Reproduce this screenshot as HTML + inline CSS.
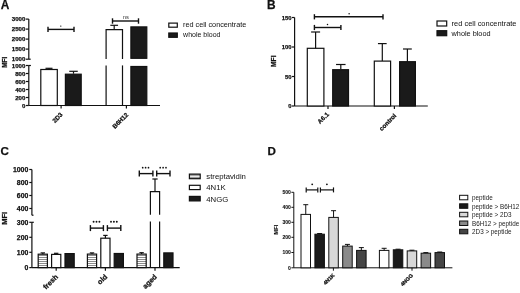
<!DOCTYPE html>
<html><head><meta charset="utf-8"><style>
html,body{margin:0;padding:0;background:#fff;width:520px;height:293px;overflow:hidden}
svg{display:block;will-change:transform;filter:blur(0.4px)}
text{font-family:"Liberation Sans", sans-serif}
</style></head><body>
<svg width="520" height="293" viewBox="0 0 520 293">
<rect width="520" height="293" fill="#fff"/>
<text x="0.8" y="8.9" font-size="11.9" font-weight="bold" text-anchor="start" fill="#111" stroke="#111" stroke-width="0.25">A</text>
<line x1="28.8" y1="19.1" x2="28.8" y2="59.2" stroke="#111" stroke-width="1.2"/>
<line x1="25.900000000000002" y1="19.1" x2="28.8" y2="19.1" stroke="#111" stroke-width="1.2"/>
<text x="25.400000000000002" y="21.296" font-size="6.1" font-weight="bold" text-anchor="end" fill="#111" stroke="#111" stroke-width="0.25">3000</text>
<line x1="25.900000000000002" y1="29.1" x2="28.8" y2="29.1" stroke="#111" stroke-width="1.2"/>
<text x="25.400000000000002" y="31.296" font-size="6.1" font-weight="bold" text-anchor="end" fill="#111" stroke="#111" stroke-width="0.25">2500</text>
<line x1="25.900000000000002" y1="39.1" x2="28.8" y2="39.1" stroke="#111" stroke-width="1.2"/>
<text x="25.400000000000002" y="41.296" font-size="6.1" font-weight="bold" text-anchor="end" fill="#111" stroke="#111" stroke-width="0.25">2000</text>
<line x1="25.900000000000002" y1="49.1" x2="28.8" y2="49.1" stroke="#111" stroke-width="1.2"/>
<text x="25.400000000000002" y="51.296" font-size="6.1" font-weight="bold" text-anchor="end" fill="#111" stroke="#111" stroke-width="0.25">1500</text>
<line x1="25.900000000000002" y1="59.2" x2="28.8" y2="59.2" stroke="#111" stroke-width="1.2"/>
<text x="25.400000000000002" y="61.396" font-size="6.1" font-weight="bold" text-anchor="end" fill="#111" stroke="#111" stroke-width="0.25">1000</text>
<line x1="28.8" y1="65.5" x2="28.8" y2="105.5" stroke="#111" stroke-width="1.2"/>
<line x1="25.900000000000002" y1="65.5" x2="28.8" y2="65.5" stroke="#111" stroke-width="1.2"/>
<text x="25.400000000000002" y="67.696" font-size="6.1" font-weight="bold" text-anchor="end" fill="#111" stroke="#111" stroke-width="0.25">1000</text>
<line x1="25.900000000000002" y1="73.5" x2="28.8" y2="73.5" stroke="#111" stroke-width="1.2"/>
<text x="25.400000000000002" y="75.696" font-size="6.1" font-weight="bold" text-anchor="end" fill="#111" stroke="#111" stroke-width="0.25">800</text>
<line x1="25.900000000000002" y1="81.5" x2="28.8" y2="81.5" stroke="#111" stroke-width="1.2"/>
<text x="25.400000000000002" y="83.696" font-size="6.1" font-weight="bold" text-anchor="end" fill="#111" stroke="#111" stroke-width="0.25">600</text>
<line x1="25.900000000000002" y1="89.5" x2="28.8" y2="89.5" stroke="#111" stroke-width="1.2"/>
<text x="25.400000000000002" y="91.696" font-size="6.1" font-weight="bold" text-anchor="end" fill="#111" stroke="#111" stroke-width="0.25">400</text>
<line x1="25.900000000000002" y1="97.5" x2="28.8" y2="97.5" stroke="#111" stroke-width="1.2"/>
<text x="25.400000000000002" y="99.696" font-size="6.1" font-weight="bold" text-anchor="end" fill="#111" stroke="#111" stroke-width="0.25">200</text>
<line x1="25.900000000000002" y1="105.5" x2="28.8" y2="105.5" stroke="#111" stroke-width="1.2"/>
<text x="25.400000000000002" y="107.696" font-size="6.1" font-weight="bold" text-anchor="end" fill="#111" stroke="#111" stroke-width="0.25">0</text>
<line x1="28.8" y1="59.2" x2="30.7" y2="59.2" stroke="#111" stroke-width="1.2"/>
<line x1="28.8" y1="65.5" x2="30.900000000000002" y2="65.5" stroke="#111" stroke-width="1.2"/>
<text x="6.6" y="62.3" font-size="6.4" font-weight="bold" text-anchor="middle" fill="#111" transform="rotate(-90 6.6 62.3)" stroke="#111" stroke-width="0.25">MFI</text>
<line x1="28.8" y1="105.5" x2="160" y2="105.5" stroke="#111" stroke-width="1.2"/>
<rect x="40.8" y="69.5" width="16.5" height="36.0" fill="#fff" stroke="#111" stroke-width="1.2"/>
<line x1="49" y1="68.3" x2="49" y2="69.5" stroke="#111" stroke-width="1.2"/>
<line x1="45.5" y1="68.3" x2="52.5" y2="68.3" stroke="#111" stroke-width="1.2"/>
<rect x="65.4" y="74.2" width="15.799999999999997" height="31.299999999999997" fill="#1a1a1a" stroke="#111" stroke-width="1.2"/>
<line x1="73.5" y1="71.3" x2="73.5" y2="73.7" stroke="#111" stroke-width="1.2"/>
<line x1="69.25" y1="71.3" x2="77.75" y2="71.3" stroke="#111" stroke-width="1.2"/>
<line x1="61.1" y1="105.5" x2="61.1" y2="108.5" stroke="#111" stroke-width="1.2"/>
<path d="M106.1 59.1 V29.6 H122.5 V59.1" fill="#fff" stroke="#111" stroke-width="1.2"/>
<line x1="106.1" y1="65.4" x2="106.1" y2="105.5" stroke="#111" stroke-width="1.2"/>
<line x1="122.5" y1="65.4" x2="122.5" y2="105.5" stroke="#111" stroke-width="1.2"/>
<line x1="114.2" y1="25.3" x2="114.2" y2="29.4" stroke="#111" stroke-width="1.2"/>
<line x1="110.35000000000001" y1="25.3" x2="118.05" y2="25.3" stroke="#111" stroke-width="1.2"/>
<rect x="130.9" y="26.9" width="15.900000000000006" height="31.4" fill="#1a1a1a" stroke="#111" stroke-width="1.2"/>
<rect x="130.9" y="66.5" width="15.900000000000006" height="39.0" fill="#1a1a1a" stroke="#111" stroke-width="1.2"/>
<line x1="126.4" y1="105.5" x2="126.4" y2="108.5" stroke="#111" stroke-width="1.2"/>
<line x1="48" y1="29.4" x2="74" y2="29.4" stroke="#111" stroke-width="1.4"/>
<line x1="48" y1="26.7" x2="48" y2="32.1" stroke="#111" stroke-width="1.4"/>
<line x1="74" y1="26.7" x2="74" y2="32.1" stroke="#111" stroke-width="1.4"/>
<circle cx="60.80" cy="26.1" r="0.7" fill="#111"/>
<line x1="112.5" y1="21.0" x2="138.5" y2="21.0" stroke="#111" stroke-width="1.4"/>
<line x1="112.5" y1="18.3" x2="112.5" y2="23.7" stroke="#111" stroke-width="1.4"/>
<line x1="138.5" y1="18.3" x2="138.5" y2="23.7" stroke="#111" stroke-width="1.4"/>
<text x="125.8" y="19.2" font-size="5.8" font-weight="normal" text-anchor="middle" fill="#333">ns</text>
<text x="63.08" y="115.05" font-size="6.25" font-weight="bold" text-anchor="end" fill="#111" transform="rotate(-45 63.08 115.05)" stroke="#111" stroke-width="0.25">2D3</text>
<text x="128.71" y="115.27" font-size="6.25" font-weight="bold" text-anchor="end" fill="#111" transform="rotate(-45 128.71 115.27)" stroke="#111" stroke-width="0.25">B6H12</text>
<rect x="168.8" y="23.1" width="8.5" height="4.099999999999998" fill="#fff" stroke="#111" stroke-width="1.2"/>
<text x="183.1" y="27.3" font-size="7.25" font-weight="normal" text-anchor="start" fill="#111">red cell concentrate</text>
<rect x="168.8" y="33.0" width="8.5" height="4.299999999999997" fill="#1a1a1a" stroke="#111" stroke-width="1.2"/>
<text x="183.1" y="37.3" font-size="7.0" font-weight="normal" text-anchor="start" fill="#111">whole blood</text>
<text x="266.9" y="9.2" font-size="11.9" font-weight="bold" text-anchor="start" fill="#111" stroke="#111" stroke-width="0.25">B</text>
<line x1="294.6" y1="17.5" x2="294.6" y2="106" stroke="#111" stroke-width="1.2"/>
<line x1="292.0" y1="17.5" x2="294.6" y2="17.5" stroke="#111" stroke-width="1.2"/>
<text x="291.6" y="19.624" font-size="5.9" font-weight="bold" text-anchor="end" fill="#111" stroke="#111" stroke-width="0.25">150</text>
<line x1="292.0" y1="47" x2="294.6" y2="47" stroke="#111" stroke-width="1.2"/>
<text x="291.6" y="49.124" font-size="5.9" font-weight="bold" text-anchor="end" fill="#111" stroke="#111" stroke-width="0.25">100</text>
<line x1="292.0" y1="76.5" x2="294.6" y2="76.5" stroke="#111" stroke-width="1.2"/>
<text x="291.6" y="78.624" font-size="5.9" font-weight="bold" text-anchor="end" fill="#111" stroke="#111" stroke-width="0.25">50</text>
<line x1="292.0" y1="106" x2="294.6" y2="106" stroke="#111" stroke-width="1.2"/>
<text x="291.6" y="108.124" font-size="5.9" font-weight="bold" text-anchor="end" fill="#111" stroke="#111" stroke-width="0.25">0</text>
<text x="276.5" y="61.2" font-size="6.6" font-weight="bold" text-anchor="middle" fill="#111" transform="rotate(-90 276.5 61.2)" stroke="#111" stroke-width="0.25">MFI</text>
<line x1="294.6" y1="106" x2="427.8" y2="106" stroke="#111" stroke-width="1.2"/>
<rect x="307.3" y="48.3" width="16.599999999999966" height="57.7" fill="#fff" stroke="#111" stroke-width="1.2"/>
<line x1="315.6" y1="32" x2="315.6" y2="48.3" stroke="#111" stroke-width="1.2"/>
<line x1="311.1" y1="32" x2="320.1" y2="32" stroke="#111" stroke-width="1.2"/>
<rect x="332.7" y="69.7" width="15.800000000000011" height="36.3" fill="#1a1a1a" stroke="#111" stroke-width="1.2"/>
<line x1="340.8" y1="64.5" x2="340.8" y2="69.2" stroke="#111" stroke-width="1.2"/>
<line x1="336.05" y1="64.5" x2="345.55" y2="64.5" stroke="#111" stroke-width="1.2"/>
<line x1="328" y1="106" x2="328" y2="109" stroke="#111" stroke-width="1.2"/>
<rect x="374.3" y="61.1" width="16.30000000000001" height="44.9" fill="#fff" stroke="#111" stroke-width="1.2"/>
<line x1="382.3" y1="43.6" x2="382.3" y2="61.1" stroke="#111" stroke-width="1.2"/>
<line x1="377.95" y1="43.6" x2="386.65000000000003" y2="43.6" stroke="#111" stroke-width="1.2"/>
<rect x="399.6" y="61.7" width="15.799999999999955" height="44.3" fill="#1a1a1a" stroke="#111" stroke-width="1.2"/>
<line x1="407.4" y1="49.0" x2="407.4" y2="61.7" stroke="#111" stroke-width="1.2"/>
<line x1="403.0" y1="49.0" x2="411.79999999999995" y2="49.0" stroke="#111" stroke-width="1.2"/>
<line x1="394.4" y1="106" x2="394.4" y2="109" stroke="#111" stroke-width="1.2"/>
<line x1="314.4" y1="16.8" x2="383" y2="16.8" stroke="#111" stroke-width="1.4"/>
<line x1="314.4" y1="14.200000000000001" x2="314.4" y2="19.400000000000002" stroke="#111" stroke-width="1.4"/>
<line x1="383" y1="14.200000000000001" x2="383" y2="19.400000000000002" stroke="#111" stroke-width="1.4"/>
<circle cx="349.10" cy="13.7" r="0.75" fill="#111"/>
<line x1="314.4" y1="27.5" x2="340.9" y2="27.5" stroke="#111" stroke-width="1.4"/>
<line x1="314.4" y1="24.9" x2="314.4" y2="30.1" stroke="#111" stroke-width="1.4"/>
<line x1="340.9" y1="24.9" x2="340.9" y2="30.1" stroke="#111" stroke-width="1.4"/>
<circle cx="327.50" cy="24.5" r="0.75" fill="#111"/>
<text x="329.4" y="114.8" font-size="6.25" font-weight="bold" text-anchor="end" fill="#111" transform="rotate(-45 329.4 114.8)" stroke="#111" stroke-width="0.25">A6.1</text>
<text x="396.8" y="116.17" font-size="6.25" font-weight="bold" text-anchor="end" fill="#111" transform="rotate(-45 396.8 116.17)" stroke="#111" stroke-width="0.25">control</text>
<rect x="437" y="21" width="9.699999999999989" height="5" fill="#fff" stroke="#111" stroke-width="1.2"/>
<text x="451.6" y="25.9" font-size="7.45" font-weight="normal" text-anchor="start" fill="#111">red cell concentrate</text>
<rect x="437" y="30.7" width="9.699999999999989" height="5.0000000000000036" fill="#1a1a1a" stroke="#111" stroke-width="1.2"/>
<text x="451.6" y="35.5" font-size="7.3" font-weight="normal" text-anchor="start" fill="#111">whole blood</text>
<text x="0.4" y="154.6" font-size="11.6" font-weight="bold" text-anchor="start" fill="#111" stroke="#111" stroke-width="0.25">C</text>
<line x1="31.9" y1="169.5" x2="31.9" y2="215.2" stroke="#111" stroke-width="1.2"/>
<line x1="29.299999999999997" y1="169.5" x2="31.9" y2="169.5" stroke="#111" stroke-width="1.2"/>
<text x="28.299999999999997" y="171.984" font-size="6.9" font-weight="bold" text-anchor="end" fill="#111" stroke="#111" stroke-width="0.25">1000</text>
<line x1="29.299999999999997" y1="182.5" x2="31.9" y2="182.5" stroke="#111" stroke-width="1.2"/>
<text x="28.299999999999997" y="184.984" font-size="6.9" font-weight="bold" text-anchor="end" fill="#111" stroke="#111" stroke-width="0.25">800</text>
<line x1="29.299999999999997" y1="195.5" x2="31.9" y2="195.5" stroke="#111" stroke-width="1.2"/>
<text x="28.299999999999997" y="197.984" font-size="6.9" font-weight="bold" text-anchor="end" fill="#111" stroke="#111" stroke-width="0.25">600</text>
<line x1="29.299999999999997" y1="208.5" x2="31.9" y2="208.5" stroke="#111" stroke-width="1.2"/>
<text x="28.299999999999997" y="210.984" font-size="6.9" font-weight="bold" text-anchor="end" fill="#111" stroke="#111" stroke-width="0.25">400</text>
<line x1="31.9" y1="215.2" x2="33.5" y2="215.2" stroke="#111" stroke-width="1.2"/>
<line x1="31.9" y1="222.3" x2="31.9" y2="267.6" stroke="#111" stroke-width="1.2"/>
<line x1="29.299999999999997" y1="222.3" x2="31.9" y2="222.3" stroke="#111" stroke-width="1.2"/>
<text x="28.299999999999997" y="224.78400000000002" font-size="6.9" font-weight="bold" text-anchor="end" fill="#111" stroke="#111" stroke-width="0.25">300</text>
<line x1="29.299999999999997" y1="237.3" x2="31.9" y2="237.3" stroke="#111" stroke-width="1.2"/>
<text x="28.299999999999997" y="239.78400000000002" font-size="6.9" font-weight="bold" text-anchor="end" fill="#111" stroke="#111" stroke-width="0.25">200</text>
<line x1="29.299999999999997" y1="252.3" x2="31.9" y2="252.3" stroke="#111" stroke-width="1.2"/>
<text x="28.299999999999997" y="254.78400000000002" font-size="6.9" font-weight="bold" text-anchor="end" fill="#111" stroke="#111" stroke-width="0.25">100</text>
<line x1="29.299999999999997" y1="267.6" x2="31.9" y2="267.6" stroke="#111" stroke-width="1.2"/>
<text x="28.299999999999997" y="270.084" font-size="6.9" font-weight="bold" text-anchor="end" fill="#111" stroke="#111" stroke-width="0.25">0</text>
<line x1="31.9" y1="222.3" x2="33.8" y2="222.3" stroke="#111" stroke-width="1.2"/>
<text x="7.3" y="218.4" font-size="7.4" font-weight="bold" text-anchor="middle" fill="#111" transform="rotate(-90 7.3 218.4)" stroke="#111" stroke-width="0.25">MFI</text>
<line x1="31.9" y1="267.6" x2="179.7" y2="267.6" stroke="#111" stroke-width="1.2"/>
<defs><pattern id="hs" width="4" height="2" patternUnits="userSpaceOnUse"><rect width="4" height="2" fill="#fff"/><rect y="1" width="4" height="1" fill="#8c8c8c"/></pattern></defs>
<rect x="38.2" y="254.2" width="9.200000000000003" height="13.400000000000034" fill="url(#hs)" stroke="#111" stroke-width="1.2"/>
<line x1="42.800000000000004" y1="252.9" x2="42.800000000000004" y2="254.2" stroke="#111" stroke-width="1.2"/>
<line x1="40.6" y1="252.9" x2="45.00000000000001" y2="252.9" stroke="#111" stroke-width="1.2"/>
<rect x="51.6" y="254.4" width="9.199999999999996" height="13.200000000000017" fill="#fff" stroke="#111" stroke-width="1.2"/>
<line x1="56.2" y1="253.3" x2="56.2" y2="254.4" stroke="#111" stroke-width="1.2"/>
<line x1="54.0" y1="253.3" x2="58.400000000000006" y2="253.3" stroke="#111" stroke-width="1.2"/>
<rect x="65.0" y="253.6" width="9.200000000000003" height="14.000000000000028" fill="#1a1a1a" stroke="#111" stroke-width="1.2"/>
<line x1="56.2" y1="267.6" x2="56.2" y2="270.8" stroke="#111" stroke-width="1.2"/>
<rect x="87.4" y="254.1" width="9.200000000000003" height="13.500000000000028" fill="url(#hs)" stroke="#111" stroke-width="1.2"/>
<line x1="92.0" y1="252.9" x2="92.0" y2="254.1" stroke="#111" stroke-width="1.2"/>
<line x1="89.8" y1="252.9" x2="94.2" y2="252.9" stroke="#111" stroke-width="1.2"/>
<rect x="100.80000000000001" y="238.2" width="9.200000000000003" height="29.400000000000034" fill="#fff" stroke="#111" stroke-width="1.2"/>
<line x1="105.4" y1="235.4" x2="105.4" y2="238.2" stroke="#111" stroke-width="1.2"/>
<line x1="103.2" y1="235.4" x2="107.60000000000001" y2="235.4" stroke="#111" stroke-width="1.2"/>
<rect x="114.2" y="253.5" width="9.200000000000003" height="14.100000000000023" fill="#1a1a1a" stroke="#111" stroke-width="1.2"/>
<line x1="105.4" y1="267.6" x2="105.4" y2="270.8" stroke="#111" stroke-width="1.2"/>
<rect x="137.0" y="254.1" width="9.199999999999989" height="13.500000000000028" fill="url(#hs)" stroke="#111" stroke-width="1.2"/>
<line x1="141.6" y1="252.7" x2="141.6" y2="254.1" stroke="#111" stroke-width="1.2"/>
<line x1="139.4" y1="252.7" x2="143.79999999999998" y2="252.7" stroke="#111" stroke-width="1.2"/>
<path d="M150.4 214.8 V191.7 H159.60 V214.8" fill="#fff" stroke="#111" stroke-width="1.2"/>
<line x1="150.4" y1="221.6" x2="150.4" y2="267.6" stroke="#111" stroke-width="1.2"/>
<line x1="159.6" y1="221.6" x2="159.6" y2="267.6" stroke="#111" stroke-width="1.2"/>
<line x1="155.0" y1="179.0" x2="155.0" y2="191.7" stroke="#111" stroke-width="1.2"/>
<line x1="152.35" y1="179.0" x2="157.65" y2="179.0" stroke="#111" stroke-width="1.2"/>
<rect x="163.8" y="252.9" width="9.199999999999989" height="14.700000000000017" fill="#1a1a1a" stroke="#111" stroke-width="1.2"/>
<line x1="155.0" y1="267.6" x2="155.0" y2="270.8" stroke="#111" stroke-width="1.2"/>
<line x1="90.4" y1="228.1" x2="103.4" y2="228.1" stroke="#111" stroke-width="1.4"/>
<line x1="90.4" y1="225.1" x2="90.4" y2="231.1" stroke="#111" stroke-width="1.4"/>
<line x1="103.4" y1="225.1" x2="103.4" y2="231.1" stroke="#111" stroke-width="1.4"/>
<line x1="107.4" y1="228.1" x2="120.8" y2="228.1" stroke="#111" stroke-width="1.4"/>
<line x1="107.4" y1="225.1" x2="107.4" y2="231.1" stroke="#111" stroke-width="1.4"/>
<line x1="120.8" y1="225.1" x2="120.8" y2="231.1" stroke="#111" stroke-width="1.4"/>
<circle cx="93.60" cy="221.8" r="0.95" fill="#111"/>
<circle cx="96.50" cy="221.8" r="0.95" fill="#111"/>
<circle cx="99.40" cy="221.8" r="0.95" fill="#111"/>
<circle cx="111.00" cy="221.8" r="0.95" fill="#111"/>
<circle cx="113.90" cy="221.8" r="0.95" fill="#111"/>
<circle cx="116.80" cy="221.8" r="0.95" fill="#111"/>
<line x1="139.3" y1="173.6" x2="152.9" y2="173.6" stroke="#111" stroke-width="1.4"/>
<line x1="139.3" y1="170.6" x2="139.3" y2="176.6" stroke="#111" stroke-width="1.4"/>
<line x1="152.9" y1="170.6" x2="152.9" y2="176.6" stroke="#111" stroke-width="1.4"/>
<line x1="156.7" y1="173.6" x2="170" y2="173.6" stroke="#111" stroke-width="1.4"/>
<line x1="156.7" y1="170.6" x2="156.7" y2="176.6" stroke="#111" stroke-width="1.4"/>
<line x1="170" y1="170.6" x2="170" y2="176.6" stroke="#111" stroke-width="1.4"/>
<circle cx="142.70" cy="167.7" r="0.85" fill="#111"/>
<circle cx="145.60" cy="167.7" r="0.85" fill="#111"/>
<circle cx="148.50" cy="167.7" r="0.85" fill="#111"/>
<circle cx="160.20" cy="167.7" r="0.85" fill="#111"/>
<circle cx="163.10" cy="167.7" r="0.85" fill="#111"/>
<circle cx="166.00" cy="167.7" r="0.85" fill="#111"/>
<text x="58.5" y="277.43" font-size="7.2" font-weight="bold" text-anchor="end" fill="#111" transform="rotate(-45 58.5 277.43)" stroke="#111" stroke-width="0.25">fresh</text>
<text x="107.76" y="277.31" font-size="7.2" font-weight="bold" text-anchor="end" fill="#111" transform="rotate(-45 107.76 277.31)" stroke="#111" stroke-width="0.25">old</text>
<text x="157.35" y="277.3" font-size="7.2" font-weight="bold" text-anchor="end" fill="#111" transform="rotate(-45 157.35 277.3)" stroke="#111" stroke-width="0.25">aged</text>
<rect x="189.4" y="174.1" width="10.799999999999983" height="4.599999999999994" fill="#9c9c9c" stroke="#111" stroke-width="1.2"/>
<line x1="190.1" y1="176.4" x2="199.5" y2="176.4" stroke="#f4f4f4" stroke-width="1.0"/>
<text x="206.3" y="179.2" font-size="7.75" font-weight="normal" text-anchor="start" fill="#111">streptavidin</text>
<rect x="189.4" y="185.3" width="10.799999999999983" height="4.299999999999983" fill="#fff" stroke="#111" stroke-width="1.2"/>
<text x="206.3" y="190.4" font-size="7.75" font-weight="normal" text-anchor="start" fill="#111">4N1K</text>
<rect x="189.4" y="196.4" width="10.799999999999983" height="4.5" fill="#1a1a1a" stroke="#111" stroke-width="1.2"/>
<text x="206.3" y="201.7" font-size="7.75" font-weight="normal" text-anchor="start" fill="#111">4NGG</text>
<text x="267.6" y="154.6" font-size="11.6" font-weight="bold" text-anchor="start" fill="#111" stroke="#111" stroke-width="0.25">D</text>
<line x1="293.8" y1="192.3" x2="293.8" y2="267.8" stroke="#111" stroke-width="1.0"/>
<line x1="291.40000000000003" y1="192.3" x2="293.8" y2="192.3" stroke="#111" stroke-width="1.0"/>
<text x="290.8" y="194.10000000000002" font-size="5.0" font-weight="bold" text-anchor="end" fill="#111" stroke="#111" stroke-width="0.1">500</text>
<line x1="291.40000000000003" y1="207.3" x2="293.8" y2="207.3" stroke="#111" stroke-width="1.0"/>
<text x="290.8" y="209.10000000000002" font-size="5.0" font-weight="bold" text-anchor="end" fill="#111" stroke="#111" stroke-width="0.1">400</text>
<line x1="291.40000000000003" y1="222.3" x2="293.8" y2="222.3" stroke="#111" stroke-width="1.0"/>
<text x="290.8" y="224.10000000000002" font-size="5.0" font-weight="bold" text-anchor="end" fill="#111" stroke="#111" stroke-width="0.1">300</text>
<line x1="291.40000000000003" y1="237.3" x2="293.8" y2="237.3" stroke="#111" stroke-width="1.0"/>
<text x="290.8" y="239.10000000000002" font-size="5.0" font-weight="bold" text-anchor="end" fill="#111" stroke="#111" stroke-width="0.1">200</text>
<line x1="291.40000000000003" y1="252.5" x2="293.8" y2="252.5" stroke="#111" stroke-width="1.0"/>
<text x="290.8" y="254.3" font-size="5.0" font-weight="bold" text-anchor="end" fill="#111" stroke="#111" stroke-width="0.1">100</text>
<line x1="291.40000000000003" y1="267.8" x2="293.8" y2="267.8" stroke="#111" stroke-width="1.0"/>
<text x="290.8" y="269.6" font-size="5.0" font-weight="bold" text-anchor="end" fill="#111" stroke="#111" stroke-width="0.1">0</text>
<text x="278.3" y="229.6" font-size="5.6" font-weight="bold" text-anchor="middle" fill="#111" transform="rotate(-90 278.3 229.6)" stroke="#111" stroke-width="0.1">MFI</text>
<line x1="293.8" y1="267.8" x2="452.4" y2="267.8" stroke="#111" stroke-width="1.0"/>
<rect x="301.0" y="214.4" width="9.5" height="53.400000000000006" fill="#fff" stroke="#111" stroke-width="1.0"/>
<line x1="305.75" y1="204.7" x2="305.75" y2="214.4" stroke="#111" stroke-width="1.0"/>
<line x1="303.25" y1="204.7" x2="308.25" y2="204.7" stroke="#111" stroke-width="1.0"/>
<rect x="314.9" y="234.2" width="9.5" height="33.60000000000002" fill="#1a1a1a" stroke="#111" stroke-width="1.0"/>
<line x1="319.65" y1="233.5" x2="319.65" y2="234.2" stroke="#111" stroke-width="1.0"/>
<line x1="317.15" y1="233.5" x2="322.15" y2="233.5" stroke="#111" stroke-width="1.0"/>
<rect x="328.8" y="217.4" width="9.5" height="50.400000000000006" fill="#d8d8d8" stroke="#111" stroke-width="1.0"/>
<line x1="333.55" y1="210.7" x2="333.55" y2="217.4" stroke="#111" stroke-width="1.0"/>
<line x1="331.05" y1="210.7" x2="336.05" y2="210.7" stroke="#111" stroke-width="1.0"/>
<rect x="342.7" y="246.1" width="9.5" height="21.700000000000017" fill="#8a8a8a" stroke="#111" stroke-width="1.0"/>
<line x1="347.45" y1="244.4" x2="347.45" y2="246.1" stroke="#111" stroke-width="1.0"/>
<line x1="344.95" y1="244.4" x2="349.95" y2="244.4" stroke="#111" stroke-width="1.0"/>
<rect x="356.6" y="250.4" width="9.5" height="17.400000000000006" fill="#454545" stroke="#111" stroke-width="1.0"/>
<line x1="361.35" y1="247.6" x2="361.35" y2="250.4" stroke="#111" stroke-width="1.0"/>
<line x1="358.85" y1="247.6" x2="363.85" y2="247.6" stroke="#111" stroke-width="1.0"/>
<line x1="333.4" y1="267.8" x2="333.4" y2="270.7" stroke="#111" stroke-width="1.0"/>
<rect x="379.4" y="250.4" width="9.5" height="17.400000000000006" fill="#fff" stroke="#111" stroke-width="1.0"/>
<line x1="384.15" y1="248.3" x2="384.15" y2="250.4" stroke="#111" stroke-width="1.0"/>
<line x1="381.65" y1="248.3" x2="386.65" y2="248.3" stroke="#111" stroke-width="1.0"/>
<rect x="393.29999999999995" y="249.8" width="9.5" height="18.0" fill="#1a1a1a" stroke="#111" stroke-width="1.0"/>
<line x1="398.04999999999995" y1="249.2" x2="398.04999999999995" y2="249.8" stroke="#111" stroke-width="1.0"/>
<line x1="395.54999999999995" y1="249.2" x2="400.54999999999995" y2="249.2" stroke="#111" stroke-width="1.0"/>
<rect x="407.2" y="250.9" width="9.5" height="16.900000000000006" fill="#d8d8d8" stroke="#111" stroke-width="1.0"/>
<line x1="411.95" y1="250.2" x2="411.95" y2="250.9" stroke="#111" stroke-width="1.0"/>
<line x1="409.45" y1="250.2" x2="414.45" y2="250.2" stroke="#111" stroke-width="1.0"/>
<rect x="421.09999999999997" y="253.2" width="9.5" height="14.600000000000023" fill="#8a8a8a" stroke="#111" stroke-width="1.0"/>
<line x1="425.84999999999997" y1="252.6" x2="425.84999999999997" y2="253.2" stroke="#111" stroke-width="1.0"/>
<line x1="423.34999999999997" y1="252.6" x2="428.34999999999997" y2="252.6" stroke="#111" stroke-width="1.0"/>
<rect x="435.0" y="252.6" width="9.5" height="15.200000000000017" fill="#454545" stroke="#111" stroke-width="1.0"/>
<line x1="439.75" y1="252" x2="439.75" y2="252.6" stroke="#111" stroke-width="1.0"/>
<line x1="437.25" y1="252" x2="442.25" y2="252" stroke="#111" stroke-width="1.0"/>
<line x1="412" y1="267.8" x2="412" y2="270.7" stroke="#111" stroke-width="1.0"/>
<line x1="306.2" y1="189.9" x2="317.8" y2="189.9" stroke="#111" stroke-width="1.2"/>
<line x1="306.2" y1="187.4" x2="306.2" y2="192.4" stroke="#111" stroke-width="1.2"/>
<line x1="317.8" y1="187.4" x2="317.8" y2="192.4" stroke="#111" stroke-width="1.2"/>
<line x1="320.4" y1="189.9" x2="333.5" y2="189.9" stroke="#111" stroke-width="1.2"/>
<line x1="320.4" y1="187.4" x2="320.4" y2="192.4" stroke="#111" stroke-width="1.2"/>
<line x1="333.5" y1="187.4" x2="333.5" y2="192.4" stroke="#111" stroke-width="1.2"/>
<circle cx="312.20" cy="184.3" r="0.9" fill="#111"/>
<circle cx="326.90" cy="184.3" r="0.9" fill="#111"/>
<text x="334.98" y="275.7" font-size="5.3" font-weight="bold" text-anchor="end" fill="#111" transform="rotate(-45 334.98 275.7)" stroke="#111" stroke-width="0.25">4N1K</text>
<text x="413.41" y="275.93" font-size="5.3" font-weight="bold" text-anchor="end" fill="#111" transform="rotate(-45 413.41 275.93)" stroke="#111" stroke-width="0.25">4NGG</text>
<rect x="459.6" y="195.29999999999998" width="8.199999999999989" height="4.5" fill="#fff" stroke="#111" stroke-width="1.0"/>
<text x="472.1" y="200.2" font-size="6.3" font-weight="normal" text-anchor="start" fill="#222">peptide</text>
<rect x="459.6" y="203.79999999999998" width="8.199999999999989" height="4.5" fill="#1a1a1a" stroke="#111" stroke-width="1.0"/>
<text x="472.1" y="208.7" font-size="6.3" font-weight="normal" text-anchor="start" fill="#222">peptide &gt; B6H12</text>
<rect x="459.6" y="212.29999999999998" width="8.199999999999989" height="4.5" fill="#d8d8d8" stroke="#111" stroke-width="1.0"/>
<text x="472.1" y="217.2" font-size="6.3" font-weight="normal" text-anchor="start" fill="#222">peptide &gt; 2D3</text>
<rect x="459.6" y="221.0" width="8.199999999999989" height="4.5" fill="#8a8a8a" stroke="#111" stroke-width="1.0"/>
<text x="472.1" y="225.9" font-size="6.3" font-weight="normal" text-anchor="start" fill="#222">B6H12 &gt; peptide</text>
<rect x="459.6" y="229.29999999999998" width="8.199999999999989" height="4.5" fill="#454545" stroke="#111" stroke-width="1.0"/>
<text x="472.1" y="234.2" font-size="6.3" font-weight="normal" text-anchor="start" fill="#222">2D3 &gt; peptide</text>
</svg></body></html>
